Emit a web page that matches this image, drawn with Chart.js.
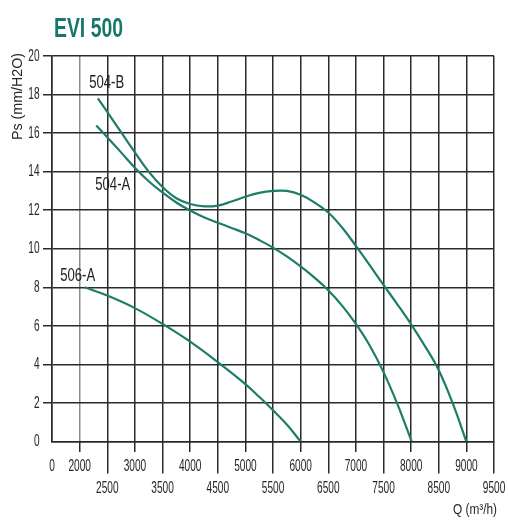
<!DOCTYPE html>
<html>
<head>
<meta charset="utf-8">
<script src="https://cdn.jsdelivr.net/npm/chart.js@4/dist/chart.umd.min.js"></script>
<style>
  html, body { margin: 0; padding: 0; background: #ffffff; }
  canvas { display: block; }
</style>
</head>
<body>
<canvas id="fanChart" width="508" height="521"></canvas>
<script>
// Fan curves: airflow Q (m³/h) against static pressure Ps (mm H2O)
const q504B  = [2330, 2500, 2750, 3000, 3250, 3500, 3750, 4000, 4250, 4500, 4750, 5000, 5250, 5500, 5750, 6000, 6250, 6500, 6750, 7000, 7250, 7500, 7750, 8000, 8250, 8500, 8750, 9000];
const ps504B = [17.8, 17.1, 16.05, 15.0, 14.0, 13.2, 12.62, 12.32, 12.2, 12.24, 12.45, 12.7, 12.9, 13.0, 13.0, 12.8, 12.4, 11.88, 11.1, 10.15, 9.15, 8.12, 7.12, 6.08, 4.95, 3.7, 2.0, 0];

const q504A  = [2300, 2500, 2750, 3000, 3250, 3500, 3750, 4000, 4250, 4500, 4750, 5000, 5250, 5500, 5750, 6000, 6250, 6500, 6750, 7000, 7250, 7500, 7750, 8010];
const ps504A = [16.4, 15.78, 15.0, 14.2, 13.5, 12.92, 12.4, 11.98, 11.63, 11.35, 11.08, 10.8, 10.45, 10.06, 9.6, 9.08, 8.5, 7.85, 7.05, 6.1, 4.98, 3.6, 1.95, 0];

const q506A  = [2090, 2500, 3000, 3500, 4000, 4500, 5000, 5250, 5500, 5750, 6000];
const ps506A = [8.0, 7.57, 6.92, 6.1, 5.18, 4.12, 2.98, 2.32, 1.62, 0.88, 0];

const seriesNames = ['504-B', '504-A', '506-A'];

// Axis ticks; the Q axis is broken: "0" sits on the left border, then 2000…9500
const xTicksTop    = [0, 2000, 3000, 4000, 5000, 6000, 7000, 8000, 9000];
const xTicksBottom = [2500, 3500, 4500, 5500, 6500, 7500, 8500, 9500];
const yTicks       = [0, 2, 4, 6, 8, 10, 12, 14, 16, 18, 20];

const Q_AXIS_START = 1500;   // where the "0" label is placed on the broken axis
const Q_AXIS_END   = 9500;

// Curve names placed in data units next to each curve
const nameAnchors = { '504-B': [2490, 18.6], '504-A': [2600, 13.33], '506-A': [1965, 8.61] };

const INK   = '#2a2a2a';
const TEAL  = '#1e7d68';
const TITLE = '#17786a';
const FONT  = '"Liberation Sans Narrow", "Liberation Sans", Arial, sans-serif';
const GRID_W = 1.5;

function toPoints(qs, ps) { return qs.map((q, i) => ({ x: q, y: ps[i] })); }

function align(p, w) { return Math.round(p - w / 2) + w / 2; }

// fits a condensed text width by measuring a sample string
function fitScale(ctx, font, sample, width) {
  ctx.font = font;
  return width / ctx.measureText(sample).width;
}

function putText(ctx, text, x, y, font, sx, alignH, baseline, color, rot) {
  ctx.save();
  ctx.font = font;
  ctx.fillStyle = color;
  ctx.textAlign = alignH;
  ctx.textBaseline = baseline;
  ctx.translate(x, y);
  if (rot) ctx.rotate(rot);
  ctx.scale(sx, 1);
  ctx.fillText(text, 0, 0);
  ctx.restore();
}

const annotationsPlugin = {
  id: 'fanAnnotations',
  afterDraw(chart) {
    const { ctx, scales: { x, y }, chartArea: a } = chart;

    // tick marks outside the plot
    ctx.save();
    ctx.strokeStyle = INK;
    ctx.lineWidth = GRID_W;
    ctx.beginPath();
    yTicks.forEach(v => {
      if (v === 0) return;
      const py = align(y.getPixelForValue(v), GRID_W);
      ctx.moveTo(a.left - 9, py);
      ctx.lineTo(a.left, py);
    });
    xTicksTop.forEach(v => {
      if (v === 0) return;
      const px = align(x.getPixelForValue(v), GRID_W);
      ctx.moveTo(px, a.bottom);
      ctx.lineTo(px, a.bottom + 10.5);
    });
    xTicksBottom.forEach(v => {
      const px = align(x.getPixelForValue(v), GRID_W);
      ctx.moveTo(px, a.bottom);
      ctx.lineTo(px, a.bottom + 32);
    });
    ctx.stroke();
    ctx.restore();

    // tick labels
    const tickFont = '17px ' + FONT;
    const sTick = fitScale(ctx, tickFont, '2000', 22.5);
    yTicks.forEach(v => {
      putText(ctx, String(v), a.left - 12.5, y.getPixelForValue(v), tickFont, sTick, 'right', 'middle', '#262626');
    });
    xTicksTop.forEach(v => {
      const px = x.getPixelForValue(v === 0 ? Q_AXIS_START : v);
      putText(ctx, String(v), px, a.bottom + 25, tickFont, sTick, 'center', 'middle', '#262626');
    });
    xTicksBottom.forEach(v => {
      putText(ctx, String(v), x.getPixelForValue(v), a.bottom + 47, tickFont, sTick, 'center', 'middle', '#262626');
    });

    // curve names
    const nameFont = '18px ' + FONT;
    const sName = fitScale(ctx, nameFont, '504-B', 35);
    seriesNames.forEach(n => {
      const [qv, pv] = nameAnchors[n];
      putText(ctx, n, x.getPixelForValue(qv), y.getPixelForValue(pv), nameFont, sName, 'center', 'middle', '#222222');
    });

    // axis titles
    const axFont = '15px ' + FONT;
    const sY = fitScale(ctx, axFont, 'Ps (mm/H2O)', 87);
    putText(ctx, 'Ps (mm/H2O)', 17.5, 96.5, axFont, sY, 'center', 'middle', '#262626', -Math.PI / 2);
    const sX = fitScale(ctx, axFont, 'Q (m³/h)', 44);
    putText(ctx, 'Q (m³/h)', 497, 510, axFont, sX, 'right', 'middle', '#262626');

    // chart title
    const titleFont = 'bold 28px ' + FONT;
    const sT = fitScale(ctx, titleFont, 'EVI 500', 69);
    putText(ctx, 'EVI 500', 54, 36.5, titleFont, sT, 'left', 'alphabetic', TITLE);
  }
};

const curveStyle = {
  borderColor: TEAL,
  borderWidth: 2.2,
  pointRadius: 0,
  pointHoverRadius: 0,
  fill: false,
  tension: 0.4
};

new Chart(document.getElementById('fanChart'), {
  type: 'line',
  data: {
    datasets: [
      Object.assign({ label: seriesNames[0], data: toPoints(q504B, ps504B) }, curveStyle),
      Object.assign({ label: seriesNames[1], data: toPoints(q504A, ps504A) }, curveStyle),
      Object.assign({ label: seriesNames[2], data: toPoints(q506A, ps506A) }, curveStyle)
    ]
  },
  options: {
    responsive: false,
    animation: false,
    events: [],
    layout: { padding: { left: 52, top: 56, right: 14, bottom: 79.5 } },
    plugins: { legend: { display: false }, tooltip: { enabled: false }, title: { display: false } },
    scales: {
      x: {
        type: 'linear',
        min: Q_AXIS_START,
        max: Q_AXIS_END,
        ticks: { display: false, stepSize: 500 },
        grid: {
          drawTicks: false,
          lineWidth: GRID_W,
          color: c => (c.tick && c.tick.value === 2000) ? '#8c8c8c' : INK
        },
        border: { display: true, color: INK, width: GRID_W },
        afterFit: s => { s.height = 0; }
      },
      y: {
        type: 'linear',
        min: 0,
        max: 20,
        ticks: { display: false, stepSize: 2 },
        grid: { drawTicks: false, lineWidth: GRID_W, color: INK },
        border: { display: true, color: INK, width: GRID_W },
        afterFit: s => { s.width = 0; }
      }
    }
  },
  plugins: [annotationsPlugin]
});
</script>
</body>
</html>
